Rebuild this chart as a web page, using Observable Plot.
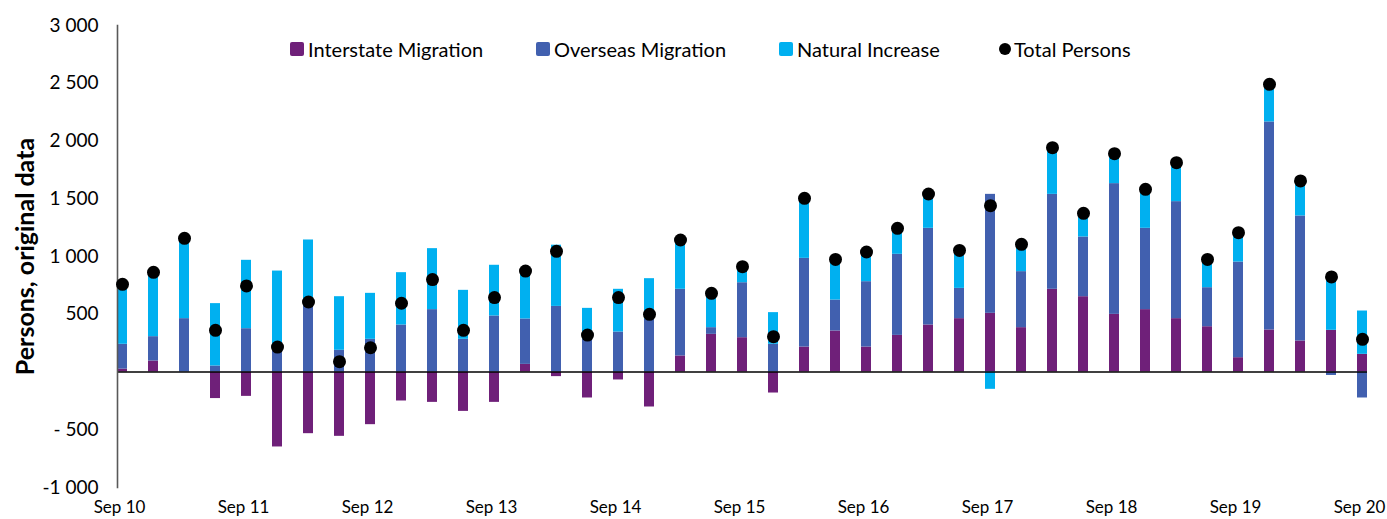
<!DOCTYPE html>
<html>
<head>
<meta charset="utf-8">
<script src="https://cdn.jsdelivr.net/npm/d3@7"></script>
<script src="https://cdn.jsdelivr.net/npm/@observablehq/plot@0.6"></script>
<style>
  html, body { margin: 0; padding: 0; background: #fff; }
  #wrap { position: relative; width: 1387px; height: 519px; overflow: hidden; font-family: Lato, "Open Sans", sans-serif; }
  .lg { position: absolute; top: 37px; height: 24px; line-height: 24px; font-size: 20px; color: #000; white-space: nowrap; }
  .sw { position: absolute; top: 5px; width: 14px; height: 14px; border-radius: 2px; }
  .dt { position: absolute; top: 6px; width: 12px; height: 12px; border-radius: 50%; background: #000; }
</style>
</head>
<body>
<div id="wrap"></div>
<script>
const quarters = ["Sep 10","Dec 10","Mar 11","Jun 11","Sep 11","Dec 11","Mar 12","Jun 12","Sep 12","Dec 12",
  "Mar 13","Jun 13","Sep 13","Dec 13","Mar 14","Jun 14","Sep 14","Dec 14","Mar 15","Jun 15",
  "Sep 15","Dec 15","Mar 16","Jun 16","Sep 16","Dec 16","Mar 17","Jun 17","Sep 17","Dec 17",
  "Mar 18","Jun 18","Sep 18","Dec 18","Mar 19","Jun 19","Sep 19","Dec 19","Mar 20","Jun 20","Sep 20"];
const interstate = [25,95,0,-230,-211,-649,-534,-557,-456,-251,
  -263,-341,-263,66,-40,-225,-69,-303,139,326,
  297,-182,216,355,216,317,407,462,508,384,
  716,652,499,540,462,392,124,364,268,361,153];
const overseas = [215,211,462,52,375,196,586,188,283,407,
  540,283,485,393,568,283,346,456,577,58,
  476,240,768,268,566,702,837,262,1030,485,
  822,517,1132,704,1013,338,828,1801,1083,-30,-225];
const natural = [505,557,701,540,592,678,557,464,398,453,
  528,424,439,430,530,268,370,352,427,297,
  139,274,520,352,257,225,297,329,-150,236,
  404,205,259,338,337,245,254,326,303,462,375];
const totalPersons = [759,863,1157,361,745,216,606,89,210,595,
  800,361,644,874,1045,320,644,499,1143,681,
  912,306,1504,975,1039,1244,1541,1053,1440,1105,
  1942,1374,1890,1582,1812,975,1206,2491,1654,823,283];
const seriesNames = ["Interstate Migration","Overseas Migration","Natural Increase"];
const seriesColors = ["#6F2079","#4160AF","#00B0F0"];
const xTicks = ["Sep 10","Sep 11","Sep 12","Sep 13","Sep 14","Sep 15","Sep 16","Sep 17","Sep 18","Sep 19","Sep 20"];
const yTicks = [-1000,-500,0,500,1000,1500,2000,2500,3000];
const yTickLabels = ["-1 000","- 500","","500","1 000","1 500","2 000","2 500","3 000"];
const yTitle = "Persons, original data";

const seriesValues = [interstate, overseas, natural];
const rows = [];
quarters.forEach((q, i) => {
  seriesNames.forEach((s, k) => rows.push({quarter: q, series: s, value: seriesValues[k][i]}));
});
const totals = quarters.map((q, i) => ({quarter: q, total: totalPersons[i]}));

const chart = Plot.plot({
  width: 1387,
  height: 519,
  marginLeft: 117,
  marginRight: 20,
  marginTop: 25,
  marginBottom: 32,
  style: {fontFamily: "Lato, 'Open Sans', sans-serif", fontSize: "19px", color: "#000", background: "#fff"},
  x: {type: "band", domain: quarters, paddingInner: 0.68, paddingOuter: 0},
  y: {domain: [-1000, 3000]},
  color: {domain: seriesNames, range: seriesColors},
  marks: [
    Plot.barY(rows, Plot.stackY({x: "quarter", y: "value", fill: "series", order: seriesNames})),
    Plot.ruleY([0], {stroke: "#000", strokeWidth: 1.4}),
    Plot.frame({anchor: "left", stroke: "#595959", strokeWidth: 1.6}),
    Plot.dot(totals, {x: "quarter", y: "total", r: 6.5, fill: "#000"}),
    Plot.axisX({ticks: xTicks, tickSize: 0, tickPadding: 13, fontSize: 17, dx: -3, label: null, fill: "#000"}),
    Plot.axisY({ticks: yTicks, tickFormat: d => yTickLabels[yTicks.indexOf(d)], tickSize: 0, tickPadding: 19, fontSize: 19, label: null, fill: "#000"}),
    Plot.text([yTitle], {text: d => d, frameAnchor: "left", rotate: -90, dx: -92, fontWeight: "bold", fontSize: 25, textAnchor: "middle", fill: "#000"})
  ]
});

const wrap = document.getElementById("wrap");
wrap.appendChild(chart);

const legendItems = [
  {label: seriesNames[0], color: seriesColors[0], left: 290, kind: "sw"},
  {label: seriesNames[1], color: seriesColors[1], left: 536, kind: "sw"},
  {label: seriesNames[2], color: seriesColors[2], left: 779, kind: "sw"},
  {label: "Total Persons", color: "#000", left: 999, kind: "dt"}
];
legendItems.forEach(it => {
  const d = document.createElement("div");
  d.className = "lg";
  d.style.left = it.left + "px";
  const m = document.createElement("div");
  m.className = it.kind;
  m.style.left = "0px";
  m.style.background = it.color;
  d.appendChild(m);
  const t = document.createElement("span");
  t.textContent = it.label;
  t.style.marginLeft = (it.kind === "sw" ? 18 : 15) + "px";
  d.appendChild(t);
  wrap.appendChild(d);
});
</script>
</body>
</html>
